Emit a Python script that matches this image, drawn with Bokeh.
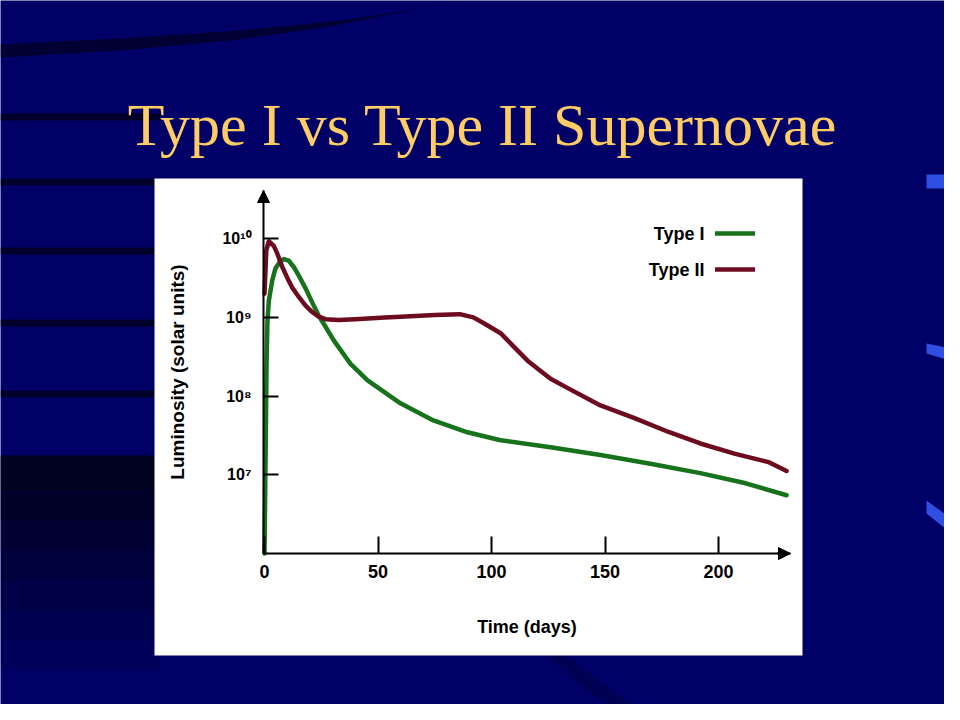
from bokeh.plotting import figure
from bokeh.models import (Range1d, FixedTicker, BoxAnnotation, PolyAnnotation, Label,
                          Legend, LegendItem, Arrow, NormalHead)
from bokeh.embed import file_html
from bokeh.resources import INLINE

# ---------------- data ----------------
title_text = "Type I vs Type II Supernovae"
series_names = ["Type I", "Type II"]
x_title = "Time (days)"
y_title = "Luminosity (solar units)"

type1_days = [0, 0.5, 0.9, 1.3, 1.9, 3.4, 4.8, 6.6, 8.5, 10.7, 12.9, 15.1, 18.1, 21,
              23.9, 26.9, 30.5, 37.9, 45.4, 59.9, 74.4, 89.4, 104, 126, 148, 170, 192,
              212, 230]
type1_lum = [1.0e6, 2.0e7, 2.5e8, 8.9e8, 1.62e9, 2.95e9, 4.17e9, 5.0e9, 5.5e9, 5.25e9,
             4.37e9, 3.39e9, 2.34e9, 1.55e9, 1.05e9, 7.6e8, 5.1e8, 2.57e8, 1.58e8,
             8.1e7, 4.9e7, 3.47e7, 2.75e7, 2.24e7, 1.78e7, 1.38e7, 1.05e7, 7.8e6, 5.5e6]

type2_days = [0, 0.8, 1.9, 4.1, 5.6, 7.8, 10, 12.2, 15.1, 18.1, 21, 23.9, 26.9, 32.6,
              40, 53, 60, 75, 86, 92, 97, 104, 110, 116, 126, 133, 148, 163, 178, 192,
              207, 222, 230]
type2_lum = [2.0e9, 7.1e9, 9.3e9, 8.1e9, 6.5e9, 4.4e9, 3.2e9, 2.4e9, 1.82e9, 1.41e9,
             1.17e9, 1.02e9, 9.5e8, 9.3e8, 9.5e8, 1.0e9, 1.02e9, 1.07e9, 1.1e9, 1.0e9,
             8.3e8, 6.3e8, 4.2e8, 2.8e8, 1.66e8, 1.29e8, 7.6e7, 5.25e7, 3.5e7, 2.5e7,
             1.86e7, 1.45e7, 1.12e7]

x_ticks = [0, 50, 100, 150, 200]
y_ticks = [1e7, 1e8, 1e9, 1e10]
y_tick_labels = ["10\u2077", "10\u2078", "10\u2079", "10\u00b9\u2070"]

# ---------------- styles / layout ----------------
W, H = 944, 704
X0_PX, PX_PER_DAY = 264, 2.27        # pixel of day 0, pixels per day
Y0_PX, PX_PER_DEC = 553, 78.7        # pixel of 10^6, pixels per decade
AX_LEFT_PX, AX_RIGHT_PX, AX_TOP_PX = 263, 790, 190


def day_at(px):
    return (px - X0_PX) / PX_PER_DAY


def lum_at(py):
    return 10 ** (6 + (Y0_PX - py) / PX_PER_DEC)


X_START, X_END = day_at(AX_LEFT_PX), day_at(AX_RIGHT_PX)
Y_MIN, Y_MAX = lum_at(Y0_PX), lum_at(AX_TOP_PX)

GREEN = "#17721c"
MAROON = "#6d0c1f"
BG = "#000066"
SANS = "Liberation Sans"


def sx(px):
    return px


def sy(py):
    return H - py


def sbox(l, r, t, b, **kw):
    return BoxAnnotation(left=sx(l), right=sx(r), top=sy(t), bottom=sy(b),
                         left_units="screen", right_units="screen",
                         top_units="screen", bottom_units="screen",
                         line_alpha=0, level="underlay", **kw)


def spoly(xs, ys, **kw):
    return PolyAnnotation(xs=[sx(v) for v in xs], ys=[sy(v) for v in ys],
                          xs_units="screen", ys_units="screen",
                          line_alpha=0, level="underlay", **kw)


p = figure(width=W, height=H, output_backend="svg", toolbar_location=None,
           x_range=Range1d(day_at(0), day_at(W)), y_range=Range1d(lum_at(H), lum_at(0)),
           y_axis_type="log",
           min_border=0, min_border_left=0, min_border_right=0, min_border_top=0,
           min_border_bottom=0,
           background_fill_color=BG, border_fill_color=BG,
           outline_line_color=None)
p.title.visible = False
p.grid.visible = False

# decorative background: dark stripes at the left, darker lower-left area
for y0, y1 in [(113, 120), (178, 185), (247, 254), (319, 326), (390, 397)]:
    p.add_layout(sbox(0, 160, y0, y1, fill_color="#000010", fill_alpha=0.7))
for (y0, y1), a in zip([(455, 490), (490, 520), (520, 550), (550, 580), (580, 610),
                        (610, 640), (640, 670)],
                       [0.75, 0.65, 0.55, 0.45, 0.33, 0.22, 0.12]):
    p.add_layout(sbox(0, 160, y0, y1, fill_color="#000008", fill_alpha=a))
p.add_layout(spoly([0, 120, 240, 340, 420, 470, 430, 330, 230, 120, 0],
                   [44, 38, 30, 20, 8, 0, 6, 26, 40, 50, 57],
                   fill_color="#000010", fill_alpha=0.6))
p.add_layout(spoly([545, 565, 630, 605], [655, 655, 704, 704],
                   fill_color="#000020", fill_alpha=0.25))
for xs, ys in [([926, 960, 960, 926], [174, 174, 188, 188]),
               ([926, 960, 960, 926], [343, 350, 363, 353]),
               ([926, 960, 960, 926], [500, 525, 540, 513])]:
    p.add_layout(spoly(xs, ys, fill_color="#3358f0", fill_alpha=0.9))

# white panel behind the chart
p.add_layout(sbox(154, 802, 178, 655, fill_color="white", fill_alpha=1.0))

# title
p.add_layout(Label(x=sx(482), y=sy(124), x_units="screen", y_units="screen",
                   text=title_text, text_align="center", text_baseline="alphabetic",
                   text_font="Liberation Serif", text_font_size="60px",
                   text_color="#FFCC66"))

# curves
r1 = p.line(type1_days, type1_lum, line_color=GREEN, line_width=4.5,
            line_join="round", line_cap="round")
r2 = p.line(type2_days, type2_lum, line_color=MAROON, line_width=4.5,
            line_join="round", line_cap="round")

# axes, drawn inside the frame at fixed positions
for ax in (p.xaxis[0], p.yaxis[0]):
    ax.axis_line_width = 2
    ax.axis_line_color = "black"
    ax.major_tick_line_width = 2
    ax.major_tick_line_color = "black"
    ax.major_tick_out = 0
    ax.minor_tick_line_color = None
    ax.major_label_text_font = SANS
    ax.major_label_text_font_style = "bold"
    ax.major_label_text_color = "black"
    ax.axis_label_text_font = SANS
    ax.axis_label_text_font_style = "bold"
    ax.axis_label_text_color = "black"

p.xaxis.fixed_location = Y_MIN
p.xaxis.bounds = (X_START, X_END)
p.xaxis.ticker = FixedTicker(ticks=x_ticks)
p.xaxis.major_tick_in = 17
p.xaxis.major_label_text_font_size = "18px"
p.xaxis.major_label_standoff = 11
p.xaxis.axis_label = x_title
p.xaxis.axis_label_text_font_size = "18px"
p.xaxis.axis_label_standoff = 36

p.yaxis.fixed_location = X_START
p.yaxis.bounds = (Y_MIN, Y_MAX)
p.yaxis.ticker = FixedTicker(ticks=y_ticks)
p.yaxis.major_tick_in = 15
p.yaxis.major_label_text_font_size = "16px"
p.yaxis.major_label_standoff = 12
p.yaxis.major_label_overrides = {t: s for t, s in zip(y_ticks, y_tick_labels)}
p.yaxis.axis_label = y_title
p.yaxis.axis_label_text_font_size = "19px"
p.yaxis.axis_label_standoff = 31

# arrow heads at the axis ends
p.add_layout(Arrow(x_start=X_END - 6, x_end=X_END, y_start=Y_MIN, y_end=Y_MIN,
                   line_width=2, end=NormalHead(size=12, fill_color="black",
                                                line_color="black")))
p.add_layout(Arrow(x_start=X_START, x_end=X_START, y_start=Y_MAX / 1.3, y_end=Y_MAX,
                   line_width=2, end=NormalHead(size=12, fill_color="black",
                                                line_color="black")))

# legend: text on the left, sample line on the right
legend = Legend(items=[LegendItem(label=" ", renderers=[r1]),
                       LegendItem(label=" ", renderers=[r2])],
                location=(sx(715), sy(279)), orientation="vertical",
                glyph_width=40, glyph_height=20, spacing=16, padding=0, margin=0,
                label_standoff=0, label_width=0, label_text_font_size="1px",
                border_line_alpha=0, background_fill_alpha=0)
p.add_layout(legend)
for name, ypx in zip(series_names, [233, 269]):
    p.add_layout(Label(x=sx(704), y=sy(ypx), x_units="screen", y_units="screen",
                       text=name, text_align="right", text_baseline="middle",
                       text_font=SANS, text_font_style="bold", text_font_size="18px",
                       text_color="black"))

open("out.html", "w").write(file_html(p, INLINE))
